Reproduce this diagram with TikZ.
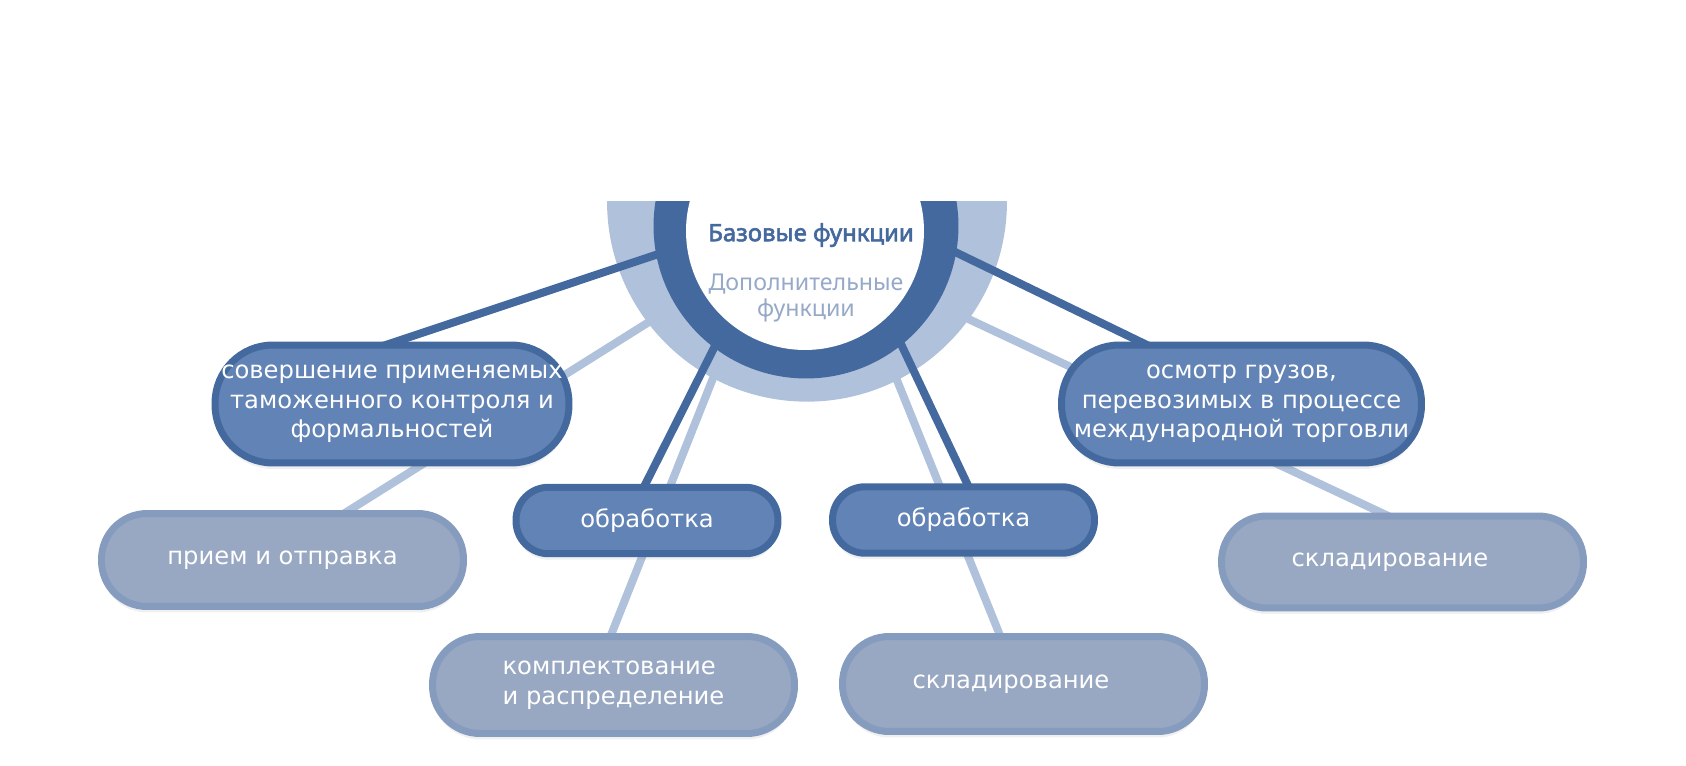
\documentclass[tikz,border=0pt]{standalone}
\usepackage{fontspec}
\setmainfont{DejaVu Sans}
\newfontfamily\ringfont[AutoFakeBold=2.5]{Noto Sans}
\usetikzlibrary{calc,shadows}

\definecolor{basedark}{HTML}{44699E}
\definecolor{basefill}{HTML}{6283B5}
\definecolor{extrafill}{HTML}{98A8C2}
\definecolor{extraedge}{HTML}{869CBE}
\definecolor{ringlight}{HTML}{B0C1DB}
\definecolor{extratext}{HTML}{97A9C8}

\pgfdeclarelayer{links}
\pgfdeclarelayer{halo}
\pgfdeclarelayer{spokes}
\pgfsetlayers{links,halo,spokes,main}

\tikzset{
  pill/.style 2 args={rectangle, minimum width=#1, minimum height=#2,
    rounded corners=0.49*#2, text=white, line width=0.14cm, align=center,
    inner xsep=1pt, font=\fontsize{13.8}{16.8}\selectfont,
    drop shadow={shadow xshift=0pt, shadow yshift=-0.12cm, opacity=0.12}},
  basebox/.style 2 args={pill={#1}{#2}, draw=basedark, fill=basefill},
  extrabox/.style={pill={7.24cm}{#1}, draw=extraedge, fill=extrafill},
  baselink/.style={basedark, line width=0.16cm},
  extralink/.style={ringlight, line width=0.16cm},
}

\begin{document}
\begin{tikzpicture}[x=0.02cm, y=-0.02cm]
  \useasboundingbox (0,0) rectangle (1686,766);
  % boxes
  \node[basebox={7.08cm}{2.36cm}] (sov) at (392,404)
    {совершение применяемых\\таможенного контроля и\\формальностей};
  \node[basebox={7.2cm}{2.36cm}] (osm) at (1241.5,404)
    {осмотр грузов,\\перевозимых в процессе\\международной торговли};
  \node[basebox={5.24cm}{1.33cm}] (obrL) at (647,520.5) {обработка};
  \node[basebox={5.24cm}{1.33cm}] (obrR) at (963.5,520) {обработка};
  \node[extrabox=1.86cm] (priem) at (282.5,560) {прием и отправка};
  \node[extrabox=1.94cm, align=left] (kompl) at (613.5,685)
    {комплектование\\и распределение};
  \node[extrabox=1.9cm] (sklM) at (1023.5,684) {складирование\hspace*{0.5cm}};
  \node[extrabox=1.84cm] (sklR) at (1402.5,562) {складирование\hspace*{0.5cm}};
  % half ring
  \begin{pgfonlayer}{halo}
    \begin{scope}
      \clip (0,201.7) rectangle (1686,766);
      \fill[ringlight] (807,201.7) circle (4cm);
    \end{scope}
  \end{pgfonlayer}
  \begin{scope}
    \clip (0,201.7) rectangle (1686,766);
    \fill[basedark] (806,226) circle (3.05cm);
    \fill[white] (805,231) circle (2.38cm);
  \end{scope}
  \node[font=\ringfont\bfseries\fontsize{13.6}{15}\selectfont, text=basedark] (base) at (811,235)
    {Базовые функции};
  \node[font=\ringfont\fontsize{13.2}{15.3}\selectfont, text=extratext, align=center] (extra) at (806,298)
    {Дополнительные\\функции};
  % links
  \coordinate (lA) at (668,310);
  \coordinate (lB) at (723,353);
  \coordinate (lC) at (886,353);
  \coordinate (lD) at (945,308);
  \coordinate (dA) at (667.5,251);
  \coordinate (dB) at (946,247.6);
  \coordinate (dC) at (719.5,337);
  \coordinate (dD) at (896.7,335);
  \begin{pgfonlayer}{links}
    \draw[extralink] (lA) -- ($(priem.north)+(46.5,13)$);
    \draw[extralink] (lB) -- ($(kompl.north)+(-10,21)$);
    \draw[extralink] (lC) -- ($(sklM.north)+(-16,21)$);
    \draw[extralink] (lD) -- ($(sklR.north)+(-2.5,9)$);
  \end{pgfonlayer}
  \begin{pgfonlayer}{spokes}
    \draw[baselink] (dA) -- ($(sov.north)+(-19.7,8)$);
    \draw[baselink] (dB) -- ($(osm.north)+(-79,11)$);
    \draw[baselink] (dC) -- ($(obrL.north)+(-9,15)$);
    \draw[baselink] (dD) -- ($(obrR.north)+(11,16)$);
  \end{pgfonlayer}
\end{tikzpicture}
\end{document}
